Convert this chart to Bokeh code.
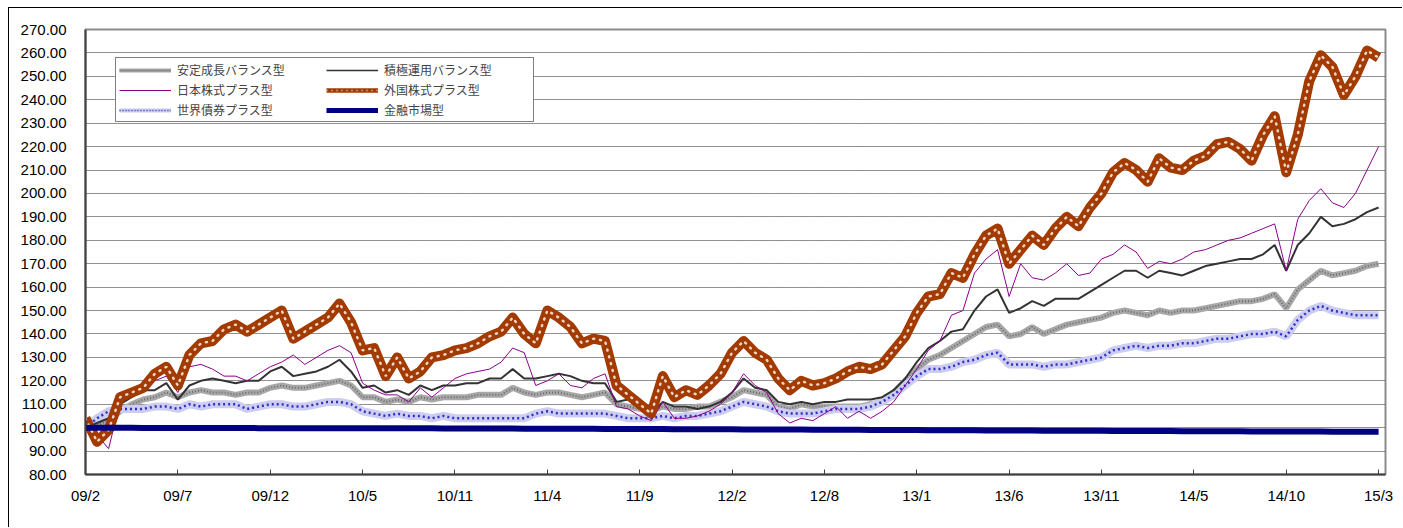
from bokeh.plotting import figure
from bokeh.models import (Range1d, FixedTicker, SingleIntervalTicker, NumeralTickFormatter,
                          Legend, LegendItem, ColumnDataSource)
from bokeh.embed import file_html
from bokeh.resources import INLINE

# ---------------- data ----------------
x_labels = ["09/2", "09/7", "09/12", "10/5", "10/11", "11/4", "11/9", "12/2",
            "12/8", "13/1", "13/6", "13/11", "14/5", "14/10", "15/3"]
samples_per_label = 8

antei = [100, 101, 103, 107, 110, 112, 113, 115, 113, 115, 116, 115, 115, 114, 115, 115, 117, 118, 117, 117,
         118, 119, 120, 118, 113, 113, 111, 112, 111, 113, 112, 113, 113, 113, 114, 114, 114, 117, 115, 114,
         115, 115, 114, 113, 114, 115, 110, 109, 108, 107, 109, 108, 108, 109, 109, 111, 113, 116, 115, 114,
         109, 108, 110, 109, 109, 109, 109, 109, 110, 111, 115, 120, 125, 129, 131, 134, 137, 140, 143, 144,
         139, 140, 143, 140, 142, 144, 145, 146, 147, 149, 150, 149, 148, 150, 149, 150, 150, 151, 152, 153,
         154, 154, 155, 157, 151, 159, 163, 167, 165, 166, 167, 169, 170]
sekkyoku = [100, 102, 104, 110, 113, 116, 116, 119, 112, 118, 120, 121, 120, 119, 120, 120, 124, 126, 122, 123,
            124, 126, 129, 124, 117, 118, 115, 116, 114, 118, 116, 118, 118, 119, 119, 121, 121, 125, 121, 121,
            122, 123, 122, 120, 119, 119, 111, 112, 108, 106, 111, 109, 109, 108, 109, 111, 115, 121, 117, 116,
            111, 110, 111, 110, 111, 111, 112, 112, 112, 113, 116, 121, 128, 134, 137, 141, 142, 150, 156, 159,
            149, 151, 154, 152, 155, 155, 155, 158, 161, 164, 167, 167, 164, 167, 166, 165, 167, 169, 170, 171,
            172, 172, 174, 178, 167, 178, 183, 190, 186, 187, 189, 192, 194]
nihon = [100, 97, 91, 111, 116, 118, 120, 122, 115, 126, 127, 125, 122, 122, 120, 123, 126, 128, 131, 127,
         130, 133, 135, 132, 119, 116, 114, 114, 111, 117, 113, 117, 121, 123, 124, 125, 128, 134, 132, 118,
         120, 123, 118, 117, 121, 123, 109, 108, 105, 103, 111, 104, 104, 105, 107, 110, 115, 123, 118, 115,
         106, 102, 104, 103, 106, 109, 104, 107, 104, 107, 111, 118, 125, 133, 137, 148, 150, 166, 172, 176,
         156, 170, 164, 163, 166, 170, 165, 166, 172, 174, 178, 175, 168, 171, 170, 172, 175, 176, 178, 180,
         181, 183, 185, 187, 167, 189, 197, 202, 196, 194, 200, 210, 220]
gaikoku = [104, 94, 99, 113, 115, 117, 123, 126, 118, 131, 136, 137, 142, 144, 141, 144, 147, 150, 138, 141,
           144, 147, 153, 145, 133, 134, 122, 130, 121, 124, 130, 131, 133, 134, 136, 139, 141, 147, 140, 136,
           150, 147, 143, 136, 138, 137, 118, 114, 110, 106, 122, 113, 116, 114, 118, 123, 132, 137, 132, 129,
           121, 116, 120, 118, 119, 121, 124, 126, 125, 127, 133, 139, 149, 156, 157, 166, 164, 174, 182, 185,
           170, 176, 182, 178, 185, 190, 186, 194, 200, 209, 213, 210, 205, 215, 211, 210, 214, 216, 221, 222,
           219, 214, 225, 233, 209, 225, 248, 259, 254, 242, 250, 261, 258]
sekai = [100, 104, 107, 108, 108, 108, 109, 109, 108, 110, 109, 110, 110, 110, 108, 109, 110, 110, 109, 109,
         110, 111, 111, 110, 107, 106, 105, 106, 105, 105, 104, 105, 104, 104, 104, 104, 104, 104, 104, 106,
         107, 106, 106, 106, 106, 106, 105, 104, 104, 104, 105, 104, 105, 105, 106, 107, 109, 111, 110, 109,
         107, 106, 106, 106, 107, 108, 108, 108, 109, 111, 114, 118, 122, 125, 125, 126, 128, 129, 131, 132,
         127, 127, 127, 126, 127, 127, 128, 129, 130, 133, 134, 135, 134, 135, 135, 136, 136, 137, 138, 138,
         139, 140, 140, 141, 139, 146, 150, 152, 150, 149, 148, 148, 148]
kinyu = [100.0, 100.0, 100.0, 100.0, 100.0, 99.9, 99.9, 99.9, 99.9, 99.9,
         99.9, 99.9, 99.9, 99.9, 99.9, 99.8, 99.8, 99.8, 99.8, 99.8,
         99.8, 99.8, 99.8, 99.8, 99.7, 99.7, 99.7, 99.7, 99.7, 99.7,
         99.7, 99.6, 99.6, 99.6, 99.6, 99.6, 99.6, 99.6, 99.5, 99.5,
         99.5, 99.5, 99.5, 99.5, 99.5, 99.4, 99.4, 99.4, 99.4, 99.4,
         99.4, 99.3, 99.3, 99.3, 99.3, 99.3, 99.3, 99.2, 99.2, 99.2,
         99.2, 99.2, 99.2, 99.1, 99.1, 99.1, 99.1, 99.1, 99.0, 99.0,
         99.0, 99.0, 99.0, 98.9, 98.9, 98.9, 98.9, 98.9, 98.8, 98.8,
         98.8, 98.8, 98.8, 98.7, 98.7, 98.7, 98.7, 98.7, 98.7, 98.6,
         98.6, 98.6, 98.6, 98.6, 98.6, 98.5, 98.5, 98.5, 98.5, 98.5,
         98.5, 98.4, 98.4, 98.4, 98.4, 98.4, 98.4, 98.4, 98.3, 98.3,
         98.3, 98.3, 98.3]

names = ["安定成長バランス型", "積極運用バランス型", "日本株式プラス型",
         "外国株式プラス型", "世界債券プラス型", "金融市場型"]

# ---------------- figure ----------------
n = len(antei)
xs = list(range(n))
src = ColumnDataSource(dict(x=xs, antei=antei, sekkyoku=sekkyoku, nihon=nihon,
                            gaikoku=gaikoku, sekai=sekai, kinyu=kinyu))
# source for legend-only swatches (nothing is drawn in the plot area)
swatch = ColumnDataSource(dict(x=[float("nan")], y=[float("nan")]))

p = figure(width=1394, height=520, output_backend="svg", toolbar_location=None,
           x_range=Range1d(0, (len(x_labels) - 1) * samples_per_label + 0.6),
           y_range=Range1d(80, 270),
           min_border_left=76, min_border_right=18, min_border_top=21, min_border_bottom=54)
p.styles = {"margin-left": "8px", "margin-top": "7px",
            "border-left": "1px solid #000", "border-top": "1px solid #000"}
p.background_fill_color = "white"
p.border_fill_color = "white"
p.outline_line_color = "#8c8c8c"
p.outline_line_width = 2

# axes
tick_pos = [i * samples_per_label for i in range(len(x_labels))]
p.xaxis.ticker = FixedTicker(ticks=tick_pos)
p.xaxis.major_label_overrides = {t: l for t, l in zip(tick_pos, x_labels)}
p.xaxis.major_tick_in = 5
p.xaxis.major_tick_out = 0
p.xaxis.minor_tick_line_color = None
p.xaxis.axis_line_color = "#404040"
p.xaxis.axis_line_width = 2
p.xaxis.major_tick_line_color = "#404040"
p.xaxis.major_label_standoff = 12
p.xaxis.major_label_text_font = "Liberation Sans"
p.xaxis.major_label_text_font_size = "15px"
p.xaxis.major_label_text_color = "#000000"

p.yaxis.ticker = SingleIntervalTicker(interval=10, num_minor_ticks=0)
p.yaxis.formatter = NumeralTickFormatter(format="0.00")
p.yaxis.major_tick_in = 0
p.yaxis.major_tick_out = 0
p.yaxis.minor_tick_line_color = None
p.yaxis.axis_line_color = "#404040"
p.yaxis.axis_line_width = 2
p.yaxis.major_label_standoff = 19
p.yaxis.major_label_text_font = "Liberation Sans"
p.yaxis.major_label_text_font_size = "15px"
p.yaxis.major_label_text_color = "#000000"

p.xgrid.grid_line_color = None
p.ygrid.ticker = SingleIntervalTicker(interval=10)
p.ygrid.grid_line_color = "#222222"
p.ygrid.grid_line_dash = "1 1"
p.ygrid.grid_line_width = 1

# series
p.line("x", "antei", source=src, line_color="#a8a8a8", line_width=6)
p.line("x", "antei", source=src, line_color="#6a6a6a", line_width=2, line_dash="1 2")
p.line("x", "sekai", source=src, line_color="#cdcdf2", line_width=8)
p.line("x", "sekai", source=src, line_color="#2f2fc4", line_width=2.5, line_dash="2 3")
p.line("x", "sekkyoku", source=src, line_color="#333333", line_width=2)
p.line("x", "nihon", source=src, line_color="#8b008b", line_width=1)
p.line("x", "gaikoku", source=src, line_color="#a33a00", line_width=10, line_join="round")
p.line("x", "gaikoku", source=src, line_color="#f0d6c8", line_width=2.5,
       line_dash="1 6", line_cap="round")
p.line("x", "kinyu", source=src, line_color="#000080", line_width=6)

# legend swatches (thinner, as in the original legend)
l1a = p.line("x", "y", source=swatch, line_color="#a8a8a8", line_width=4)
l1b = p.line("x", "y", source=swatch, line_color="#6a6a6a", line_width=1.5, line_dash="1 1")
l2 = p.line("x", "y", source=swatch, line_color="#333333", line_width=1.5)
l3 = p.line("x", "y", source=swatch, line_color="#8b008b", line_width=1)
l4a = p.line("x", "y", source=swatch, line_color="#a33a00", line_width=4.5)
l4b = p.line("x", "y", source=swatch, line_color="#f0d6c8", line_width=1.5, line_dash="1 4")
l5a = p.line("x", "y", source=swatch, line_color="#cdcdf2", line_width=4)
l5b = p.line("x", "y", source=swatch, line_color="#2f2fc4", line_width=1.5, line_dash="1 2")
l6 = p.line("x", "y", source=swatch, line_color="#000080", line_width=5)

# column-major order -> row-wise reading: (安定, 積極) / (日本, 外国) / (世界, 金融)
items = [
    LegendItem(label=names[0], renderers=[l1a, l1b]),
    LegendItem(label=names[2], renderers=[l3]),
    LegendItem(label=names[4], renderers=[l5a, l5b]),
    LegendItem(label=names[1], renderers=[l2]),
    LegendItem(label=names[3], renderers=[l4a, l4b]),
    LegendItem(label=names[5], renderers=[l6]),
]
legend = Legend(items=items, location=(30, 352), ncols=2,
                glyph_width=52, glyph_height=12, label_height=12, label_width=146,
                label_standoff=6, spacing=3, padding=3, margin=0,
                label_text_font="Noto Sans CJK JP", label_text_font_size="12px",
                border_line_color="#000000", border_line_width=1,
                background_fill_color="white", background_fill_alpha=1.0)
p.add_layout(legend, "center")

open("out.html", "w").write(file_html(p, INLINE))
